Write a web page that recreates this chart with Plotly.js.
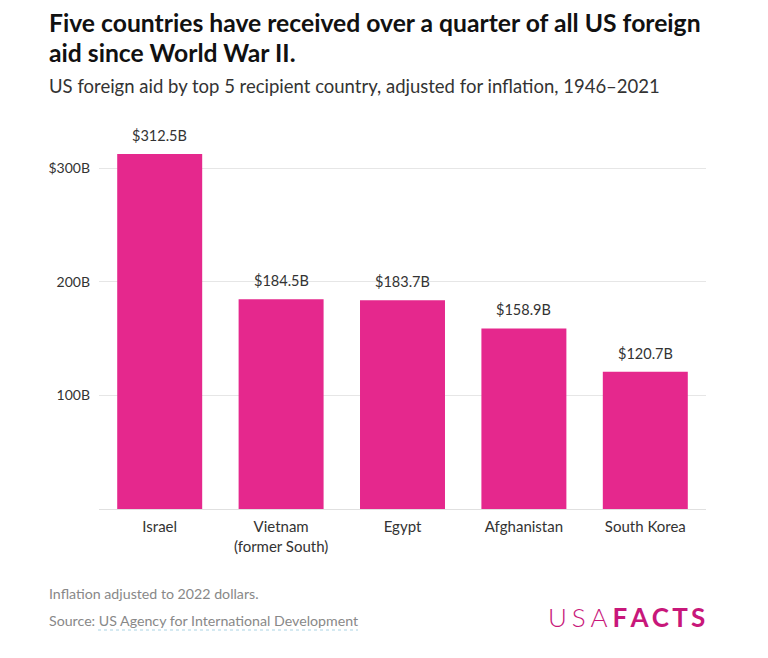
<!DOCTYPE html>
<html>
<head>
<meta charset="utf-8">
<script src="https://cdn.plot.ly/plotly-3.0.1.min.js"></script>
<style>html,body{margin:0;padding:0;background:#fff;}#chart{width:768px;height:658px;}</style>
</head>
<body>
<div id="chart"></div>
<script>
const categories = ["Israel", "Vietnam<br>(former South)", "Egypt", "Afghanistan", "South Korea"];
const aidBillions = [312.5, 184.5, 183.7, 158.9, 120.7];
const tickValues = [100, 200, 300];
const tickLabels = ["100B", "200B", "$300B"];

const FONT = "Lato, 'Open Sans', sans-serif";
const PINK = "#e5288d";

const trace = {
  type: "bar",
  x: categories,
  y: aidBillions,
  marker: {color: PINK},
  hoverinfo: "skip"
};

const valueLabels = categories.map((c, i) => ({
  xref: "x", yref: "y", x: c, y: aidBillions[i],
  xanchor: "center", yanchor: "bottom", yshift: 8, showarrow: false,
  text: "$" + aidBillions[i].toFixed(1) + "B",
  font: {family: FONT, size: 14.5, color: "#333"}
}));

const P = (px) => (509 - px) / 375;      // paper y from pixel
const PX = (px) => (px - 99) / 607;      // paper x from pixel

const layout = {
  width: 768, height: 658,
  margin: {l: 99, r: 62, t: 134, b: 149},
  paper_bgcolor: "#fff", plot_bgcolor: "#fff",
  bargap: 0.3,
  showlegend: false,
  font: {family: FONT, color: "#333"},
  xaxis: {
    tickfont: {family: FONT, size: 15, color: "#333"},
    showgrid: false, zeroline: false, showline: false, ticks: "",
    ticklabelstandoff: 7,
    fixedrange: true
  },
  yaxis: {
    range: [0, 330],
    tickvals: tickValues,
    ticktext: tickLabels,
    tickfont: {family: FONT, size: 14, color: "#333"},
    gridcolor: "#e6e6e6", gridwidth: 1,
    zeroline: true, zerolinecolor: "#e0e0e0", zerolinewidth: 1,
    showline: false, ticks: "", ticklabelstandoff: 8,
    fixedrange: true
  },
  annotations: valueLabels.concat([
    {xref: "paper", yref: "paper", xanchor: "left", yanchor: "middle", showarrow: false,
     x: PX(47), y: P(22), align: "left",
     text: "<b>Five countries have received over a quarter of all US foreign</b>",
     font: {family: FONT, size: 24.7, color: "#111"}},
    {xref: "paper", yref: "paper", xanchor: "left", yanchor: "middle", showarrow: false,
     x: PX(47), y: P(52), align: "left",
     text: "<b>aid since World War II.</b>",
     font: {family: FONT, size: 24.7, color: "#111"}},
    {xref: "paper", yref: "paper", xanchor: "left", yanchor: "middle", showarrow: false,
     x: PX(47), y: P(86), align: "left",
     text: "US foreign aid by top 5 recipient country, adjusted for inflation, 1946–2021",
     font: {family: FONT, size: 18.5, color: "#333"}},
    {xref: "paper", yref: "paper", xanchor: "left", yanchor: "middle", showarrow: false,
     x: PX(47), y: P(593), align: "left",
     text: "Inflation adjusted to 2022 dollars.",
     font: {family: FONT, size: 14.2, color: "#888"}},
    {xref: "paper", yref: "paper", xanchor: "left", yanchor: "middle", showarrow: false,
     x: PX(47), y: P(620), align: "left",
     text: "Source: US Agency for International Development",
     font: {family: FONT, size: 14.2, color: "#888"}},
    {xref: "paper", yref: "paper", xanchor: "right", yanchor: "middle", showarrow: false,
     x: PX(707), y: P(617), align: "right",
     text: "<span style='font-weight:300'>U\u2009\u200AS\u2009\u200AA\u2009\u200A</span><b>F\u2009A\u2009C\u2009T\u2009S</b>",
     font: {family: FONT, size: 26, color: "#c8177a"}}
  ]),
  shapes: [
    {type: "line", xref: "paper", yref: "paper",
     x0: PX(98), x1: PX(358),
     y0: P(630), y1: P(630),
     line: {color: "#a9d3e3", width: 1, dash: "dot"}}
  ]
};

Plotly.newPlot("chart", [trace], layout, {displayModeBar: false, staticPlot: true});
</script>
</body>
</html>
